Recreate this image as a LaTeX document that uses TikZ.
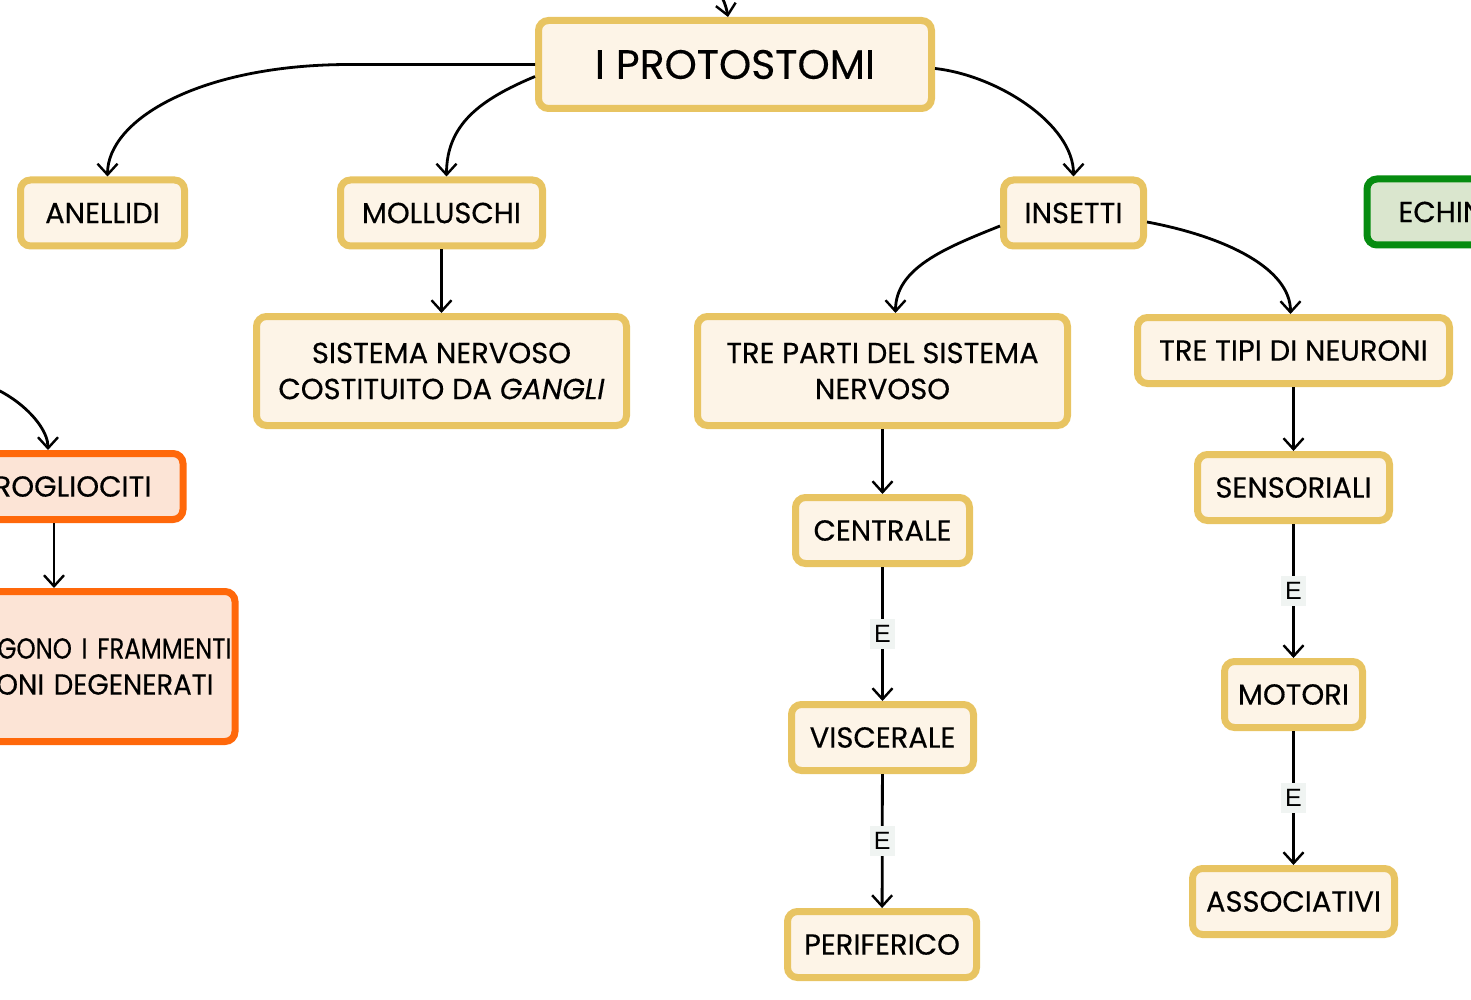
\documentclass[tikz,border=0pt]{standalone}
\usepackage{fontspec}
\setmainfont{Poppins}[UprightFeatures={FakeBold=0.35}, ItalicFeatures={FakeBold=0.35}]
\newfontfamily\narrowa{Poppins}[FakeStretch=0.84, FakeBold=0.35]
\newfontfamily\narrowb{Poppins}[FakeStretch=0.95, FakeBold=0.35]
\newfontfamily\conjfont{Liberation Sans}
\usetikzlibrary{arrows.meta}

\definecolor{goldline}{RGB}{232,196,98}
\definecolor{goldfill}{RGB}{253,244,231}
\definecolor{orangeline}{RGB}{255,104,10}
\definecolor{orangefill}{RGB}{252,228,214}
\definecolor{greenline}{RGB}{6,140,16}
\definecolor{greenfill}{RGB}{218,230,206}
\definecolor{conjfill}{RGB}{240,244,242}

\tikzset{
	concept/.style={draw=goldline, fill=goldfill, line width=3.5pt, rounded corners=5pt,
		align=center, inner sep=0pt, outer sep=1.75pt, minimum height=33pt,
		font=\fontsize{14.5}{18}\selectfont},
	hotconcept/.style={concept, draw=orangeline, fill=orangefill},
	greenconcept/.style={concept, draw=greenline, fill=greenfill},
	conn/.style={draw, line width=1.4pt, -{Straight Barb[length=5.5pt,width=10pt,line width=1.2pt]}},
	conj/.style={fill=conjfill, inner xsep=2pt, inner ysep=3pt, font=\conjfont\fontsize{12.5}{14}\selectfont},
}

\begin{document}
\begin{tikzpicture}[x=0.5pt, y=-0.5pt]
	\useasboundingbox (0,0) rectangle (1471,1000);
	\clip (0,0) rectangle (1471,1000);

	\node[concept, minimum width=196.5pt, minimum height=44pt, font=\fontsize{20.5}{24}\selectfont] (prot) at (735,64.5) {I PROTOSTOMI};
	\node[concept, minimum width=82pt] (anel) at (102.5,213) {ANELLIDI};
	\node[concept, minimum width=101pt] (moll) at (441.5,213) {MOLLUSCHI};
	\node[concept, minimum width=70pt] (ins) at (1073.5,213) {INSETTI};
	\node[greenconcept, anchor=west, text width=250pt, align=left, inner xsep=15.75pt] (echi) at (1363.5,212) {ECHIN};

	\node[concept, minimum width=185pt, minimum height=54.5pt] (sist) at (441.5,371) {SISTEMA NERVOSO\\COSTITUITO DA \textit{GANGLI}};
	\node[concept, minimum width=185pt, minimum height=54.5pt] (tp) at (882.5,371) {TRE PARTI DEL SISTEMA\\NERVOSO};
	\node[concept, minimum width=156pt] (tt) at (1293.5,350.5) {TRE TIPI DI NEURONI};

	\node[concept, minimum width=87pt] (cent) at (882.5,530.5) {CENTRALE};
	\node[concept, minimum width=91pt] (visc) at (882.5,737.5) {VISCERALE};
	\node[concept, minimum width=94.5pt] (peri) at (882,944.5) {PERIFERICO};

	\node[concept, minimum width=96pt] (sens) at (1293.5,487.5) {SENSORIALI};
	\node[concept, minimum width=69pt] (mot) at (1293.5,694.5) {MOTORI};
	\node[concept, minimum width=101pt] (assoc) at (1293.5,901.5) {ASSOCIATIVI};

	\node[hotconcept, anchor=east, text width=150pt, align=right, inner xsep=15.75pt] (micro) at (186.5,486.5) {ROGLIOCITI};
	\node[hotconcept, anchor=east, text width=200pt, align=right, inner xsep=1.75pt, minimum height=75pt] (degen) at (238.5,666.5) {{\narrowa GONO I FRAMMENTI}\\{\narrowb ONI DEGENERATI}\hspace*{9pt}\mbox{}};

	\coordinate (up) at (706,-30);
	\coordinate (left) at (-40,380);
	\coordinate (mx) at (54,0);
	\coordinate (mxin) at (48,0);

	\draw[conn] (prot.west) -- ++(-185,0) to[controls={+(-150,0) and +(0,-57)}] ([xshift=2.5pt]anel.north);
	\path[every edge/.style=conn]
	([yshift=-6pt]prot.west) edge[controls={+(-55,23) and +(0,-52)}] ([xshift=2.5pt]moll.north)
	([yshift=-2pt]prot.east) edge[controls={+(63,7) and +(0,-52)}] (ins.north)
	(up) edge[out=-60, in=100] ([xshift=-3.5pt]prot.north)
	(moll) edge (sist)
	([yshift=-6.5pt]ins.west) edge[controls={+(-55,22) and +(0,-45)}] ([xshift=6.5pt]tp.north)
	([yshift=-4.5pt]ins.east) edge[controls={+(80,15) and +(0,-45)}] ([xshift=-1.5pt]tt.north)
	(tp) edge (cent)
	(cent) edge node[conj] {E} (visc)
	(visc) edge node[conj] {E} (peri)
	(tt) edge (sens)
	(sens) edge node[conj] {E} (mot)
	(mot) edge node[conj] {E} (assoc)
	(left) edge[controls={+(40,0) and +(0,-30)}] (micro.north -| mxin)
	(micro.south -| mx) edge (degen.north -| mx);
\end{tikzpicture}
\end{document}
